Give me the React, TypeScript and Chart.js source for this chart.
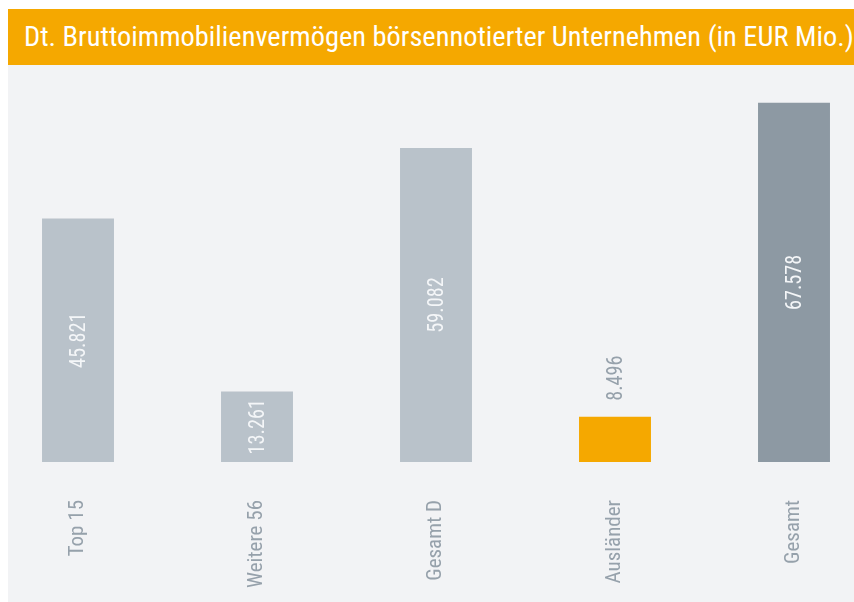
import React, { useEffect, useRef } from "react";
import { Chart, registerables } from "chart.js";

Chart.register(...registerables);

const TITLE = "Dt. Bruttoimmobilienvermögen börsennotierter Unternehmen (in EUR Mio.)";
const categories = ["Top 15", "Weitere 56", "Gesamt D", "Ausländer", "Gesamt"];
const values = [45821, 13261, 59082, 8496, 67578];
const valueLabels = ["45.821", "13.261", "59.082", "8.496", "67.578"];
const barColors = ["#b9c2ca", "#b9c2ca", "#b9c2ca", "#f5a800", "#8d99a3"];
const labelInside = [true, true, true, false, true];

const FONT = "'Liberation Sans Narrow', 'Roboto Condensed', 'Liberation Sans', sans-serif";
const GRAY_TEXT = "#96a1ab";

const valuePlugin = {
  id: "valueLabels",
  afterDatasetsDraw(chart: any) {
    const ctx = chart.ctx;
    const meta = chart.getDatasetMeta(0);
    ctx.save();
    ctx.font = `22px ${FONT}`;
    meta.data.forEach((bar: any, i: number) => {
      const x = bar.x;
      ctx.save();
      if (labelInside[i]) {
        const yc = (bar.y + bar.base) / 2;
        ctx.translate(x, yc);
        ctx.rotate(-Math.PI / 2);
        ctx.scale(0.92, 1);
        ctx.fillStyle = "#f4f6f8";
        ctx.textAlign = "center";
        ctx.textBaseline = "middle";
        ctx.fillText(valueLabels[i], 0, 1);
      } else {
        ctx.translate(x, bar.y - 16);
        ctx.rotate(-Math.PI / 2);
        ctx.scale(0.92, 1);
        ctx.fillStyle = GRAY_TEXT;
        ctx.textAlign = "left";
        ctx.textBaseline = "middle";
        ctx.fillText(valueLabels[i], 0, 1);
      }
      ctx.restore();
    });
    ctx.restore();
  },
};

export default function App() {
  const ref = useRef<HTMLCanvasElement>(null);
  useEffect(() => {
    if (!ref.current) return;
    const chart = new Chart(ref.current, {
      type: "bar",
      data: {
        labels: categories,
        datasets: [
          {
            data: values,
            backgroundColor: barColors,
            borderWidth: 0,
            categoryPercentage: 1,
            barPercentage: 0.402,
            clip: false,
          } as any,
        ],
      },
      options: {
        animation: false,
        responsive: true,
        maintainAspectRatio: false,
        layout: { padding: { left: 70, right: 60, top: 25, bottom: 0 } },
        plugins: { legend: { display: false }, tooltip: { enabled: false } },
        scales: {
          x: {
            offset: false,
            grid: { display: false, drawTicks: false },
            border: { display: false },
            ticks: {
              minRotation: 90,
              maxRotation: 90,
              padding: 38,
              color: GRAY_TEXT,
              font: { family: FONT, size: 21 },
            },
            afterFit: (s: any) => {
              s.height = 140;
              s.paddingLeft = 0;
              s.paddingRight = 0;
            },
          },
          y: {
            display: false,
            min: 0,
            max: 70000,
          },
        },
      },
      plugins: [valuePlugin],
    });
    return () => chart.destroy();
  }, []);

  return (
    <div style={{ position: "fixed", left: 8, top: 9, right: 0, bottom: 0, background: "#f2f3f5" }}>
      <div
        style={{
          background: "#f5a800",
          height: 56,
          color: "#ffffff",
          fontFamily: FONT,
          fontSize: 28.4,
          lineHeight: "56px",
          paddingLeft: 16,
          whiteSpace: "nowrap",
          overflow: "hidden",
          boxSizing: "border-box",
        }}
      >
        {TITLE}
      </div>
      <div style={{ width: 846, height: 537, position: "relative" }}>
        <canvas ref={ref} />
      </div>
    </div>
  );
}
